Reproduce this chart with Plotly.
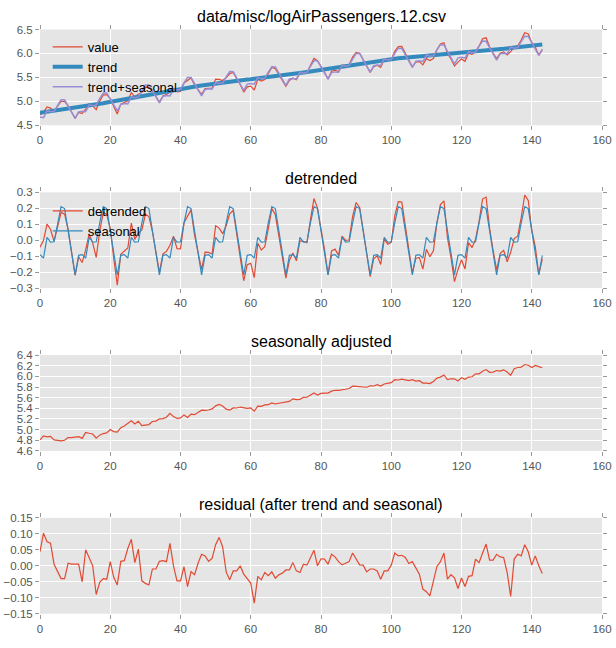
import numpy as np
import plotly.graph_objects as go

# log of monthly air passengers, 1949-1960 (144 months)
value = [
    4.718, 4.771, 4.883, 4.860, 4.796, 4.905, 4.997, 4.997, 4.913, 4.779, 4.644, 4.771,
    4.745, 4.836, 4.949, 4.905, 4.828, 5.004, 5.136, 5.136, 5.063, 4.890, 4.736, 4.942,
    4.977, 5.011, 5.182, 5.094, 5.147, 5.182, 5.293, 5.293, 5.215, 5.088, 4.984, 5.112,
    5.142, 5.193, 5.263, 5.198, 5.209, 5.384, 5.438, 5.489, 5.342, 5.252, 5.147, 5.268,
    5.278, 5.278, 5.464, 5.460, 5.434, 5.493, 5.576, 5.606, 5.468, 5.352, 5.193, 5.303,
    5.318, 5.236, 5.460, 5.425, 5.455, 5.576, 5.710, 5.680, 5.557, 5.434, 5.313, 5.434,
    5.489, 5.451, 5.587, 5.595, 5.598, 5.753, 5.897, 5.849, 5.743, 5.613, 5.468, 5.628,
    5.649, 5.624, 5.759, 5.746, 5.762, 5.924, 6.023, 6.004, 5.872, 5.724, 5.602, 5.724,
    5.753, 5.707, 5.875, 5.852, 5.872, 6.045, 6.142, 6.146, 6.001, 5.849, 5.720, 5.817,
    5.829, 5.762, 5.892, 5.852, 5.894, 6.075, 6.196, 6.225, 6.001, 5.883, 5.737, 5.820,
    5.886, 5.835, 6.006, 5.981, 6.040, 6.157, 6.306, 6.326, 6.138, 6.009, 5.892, 6.004,
    6.033, 5.969, 6.038, 6.133, 6.157, 6.282, 6.433, 6.407, 6.230, 6.133, 5.966, 6.068,
]

# smooth trend (thick blue line, top panel)
trend = [
    4.762, 4.772, 4.782, 4.793, 4.803, 4.813, 4.823, 4.834, 4.844, 4.854, 4.864, 4.875,
    4.885, 4.897, 4.910, 4.923, 4.936, 4.949, 4.962, 4.975, 4.989, 5.003, 5.017, 5.031,
    5.045, 5.060, 5.075, 5.089, 5.103, 5.117, 5.131, 5.145, 5.159, 5.172, 5.185, 5.198,
    5.212, 5.225, 5.238, 5.251, 5.263, 5.275, 5.287, 5.299, 5.310, 5.321, 5.332, 5.343,
    5.354, 5.364, 5.374, 5.384, 5.393, 5.402, 5.411, 5.420, 5.429, 5.438, 5.447, 5.456,
    5.463, 5.471, 5.479, 5.487, 5.495, 5.503, 5.512, 5.521, 5.531, 5.541, 5.551, 5.561,
    5.569, 5.580, 5.591, 5.602, 5.613, 5.624, 5.636, 5.648, 5.660, 5.672, 5.684, 5.695,
    5.705, 5.719, 5.733, 5.747, 5.761, 5.774, 5.787, 5.799, 5.810, 5.820, 5.830, 5.840,
    5.850, 5.859, 5.868, 5.877, 5.885, 5.893, 5.900, 5.907, 5.913, 5.919, 5.925, 5.931,
    5.937, 5.943, 5.949, 5.955, 5.961, 5.967, 5.973, 5.979, 5.985, 5.991, 5.997, 6.003,
    6.009, 6.015, 6.021, 6.027, 6.034, 6.041, 6.048, 6.056, 6.064, 6.072, 6.080, 6.088,
    6.096, 6.105, 6.114, 6.123, 6.132, 6.141, 6.150, 6.158, 6.166, 6.173, 6.180, 6.187,
]

# one year of the seasonal component (Jan..Dec)
seasonal_year = [-0.090, -0.112, 0.018, -0.012, -0.010, 0.108,
                 0.210, 0.198, 0.062, -0.072, -0.218, -0.095]

# residual
residual = [
    0.044, 0.102, 0.075, 0.071, 0.005, -0.019, -0.040, -0.040, 0.008, 0.005, 0.005, 0.005,
    -0.050, 0.050, 0.025, 0.000, -0.090, -0.052, -0.040, -0.042, 0.013, -0.036, -0.060, 0.014,
    0.016, 0.054, 0.083, 0.010, 0.052, -0.047, -0.055, -0.060, -0.010, -0.010, 0.014, 0.016,
    0.013, 0.070, 0.000, -0.047, -0.047, -0.003, -0.065, -0.018, -0.028, 0.008, 0.036, 0.031,
    0.014, 0.023, 0.066, 0.089, 0.059, -0.019, -0.044, -0.016, -0.016, 0.000, -0.026, -0.039,
    -0.054, -0.117, -0.033, -0.044, -0.021, -0.031, -0.019, -0.039, -0.028, -0.023, -0.013, -0.013,
    0.010, -0.016, -0.021, 0.005, 0.002, 0.025, 0.049, 0.000, 0.022, 0.021, 0.005, 0.036,
    0.028, 0.013, 0.003, 0.008, 0.013, 0.040, 0.021, 0.003, 0.002, -0.019, -0.010, -0.010,
    -0.016, -0.042, -0.016, -0.016, 0.002, 0.040, 0.031, 0.033, 0.026, 0.007, 0.013, -0.005,
    -0.026, -0.073, -0.081, -0.094, -0.052, -0.002, 0.013, 0.040, -0.042, -0.028, -0.038, -0.071,
    -0.038, -0.065, -0.033, -0.031, 0.021, 0.010, 0.040, 0.068, 0.018, 0.018, 0.036, 0.028,
    0.026, -0.021, -0.096, 0.021, 0.036, 0.031, 0.066, 0.044, 0.002, 0.031, 0.000, -0.024,
]

titles = ["data/misc/logAirPassengers.12.csv", "detrended",
          "seasonally adjusted", "residual (after trend and seasonal)"]

x = np.arange(len(value))
value = np.array(value)
trend = np.array(trend)
seasonal = np.tile(seasonal_year, len(value) // 12)
detrended = value - trend
adjusted = value - seasonal

RED, BLUE, PURPLE = "#E24A33", "#348ABD", "#988ED5"
FONT = "Liberation Sans, Arial, sans-serif"
W, H = 616, 648

fig = go.Figure()

# panel 1
fig.add_trace(go.Scatter(x=x, y=value, name="value", mode="lines",
                         line=dict(color=RED, width=1.2), xaxis="x", yaxis="y", legend="legend"))
fig.add_trace(go.Scatter(x=x, y=trend, name="trend", mode="lines",
                         line=dict(color=BLUE, width=4), xaxis="x", yaxis="y", legend="legend"))
fig.add_trace(go.Scatter(x=x, y=trend + seasonal, name="trend+seasonal", mode="lines",
                         line=dict(color=PURPLE, width=1.5), xaxis="x", yaxis="y", legend="legend"))
# panel 2
fig.add_trace(go.Scatter(x=x, y=detrended, name="detrended", mode="lines",
                         line=dict(color=RED, width=1.2), xaxis="x2", yaxis="y2", legend="legend2"))
fig.add_trace(go.Scatter(x=x, y=seasonal, name="seasonal", mode="lines",
                         line=dict(color=BLUE, width=1.2), xaxis="x2", yaxis="y2", legend="legend2"))
# panel 3
fig.add_trace(go.Scatter(x=x, y=adjusted, mode="lines", showlegend=False,
                         line=dict(color=RED, width=1.2), xaxis="x3", yaxis="y3"))
# panel 4
fig.add_trace(go.Scatter(x=x, y=residual, mode="lines", showlegend=False,
                         line=dict(color=RED, width=1.2), xaxis="x4", yaxis="y4"))

tops = [29.5, 192.3, 355.1, 517.9]   # pixel top of each panel
ph = 95.8
yranges = [(4.5, 6.5, 0.5, ".1f"), (-0.3, 0.3, 0.1, ".1f"),
           (4.6, 6.4, 0.2, ".1f"), (-0.15, 0.15, 0.05, ".2f")]

axis_common = dict(showgrid=True, gridcolor="white", gridwidth=1, zeroline=False,
                   ticks="outside", ticklen=4, tickcolor="#999999", mirror="ticks",
                   tickfont=dict(family=FONT, size=11.5, color="#555555"),
                   showline=False, automargin=False)

layout = dict(width=W, height=H, paper_bgcolor="white", plot_bgcolor="#E5E5E5",
              margin=dict(l=40, r=14, t=0, b=0), font=dict(family=FONT),
              annotations=[])
for i, top in enumerate(tops):
    n = "" if i == 0 else str(i + 1)
    d0 = 1 - (top + ph) / H
    d1 = 1 - top / H
    lo, hi, dt, fmt = yranges[i]
    layout["xaxis" + n] = dict(axis_common, range=[0, 160], tick0=0, dtick=20,
                               anchor="y" + n, domain=[0, 1])
    layout["yaxis" + n] = dict(axis_common, range=[lo, hi], tick0=lo, dtick=dt,
                               tickformat=fmt, anchor="x" + n, domain=[d0, d1])
    layout["annotations"].append(dict(text=titles[i], x=0.5, xref="paper", y=d1, yref="paper",
                                      xanchor="center", yanchor="bottom", yshift=3,
                                      showarrow=False,
                                      font=dict(family=FONT, size=16, color="black")))

legend_common = dict(bgcolor="rgba(0,0,0,0)", borderwidth=0, xanchor="left", yanchor="top",
                     font=dict(family=FONT, size=13, color="black"), tracegroupgap=0)
layout["legend"] = dict(legend_common, x=0.0137, y=1 - 32 / H)
layout["legend2"] = dict(legend_common, x=0.0137, y=1 - 196 / H)

fig.update_layout(**layout)
# drop the browser's default 8px body margin so the figure fills the window
fig.write_html("out.html", config={"displayModeBar": False},
               post_script="document.body.style.margin='0';"
                           "document.body.style.overflow='hidden';")
